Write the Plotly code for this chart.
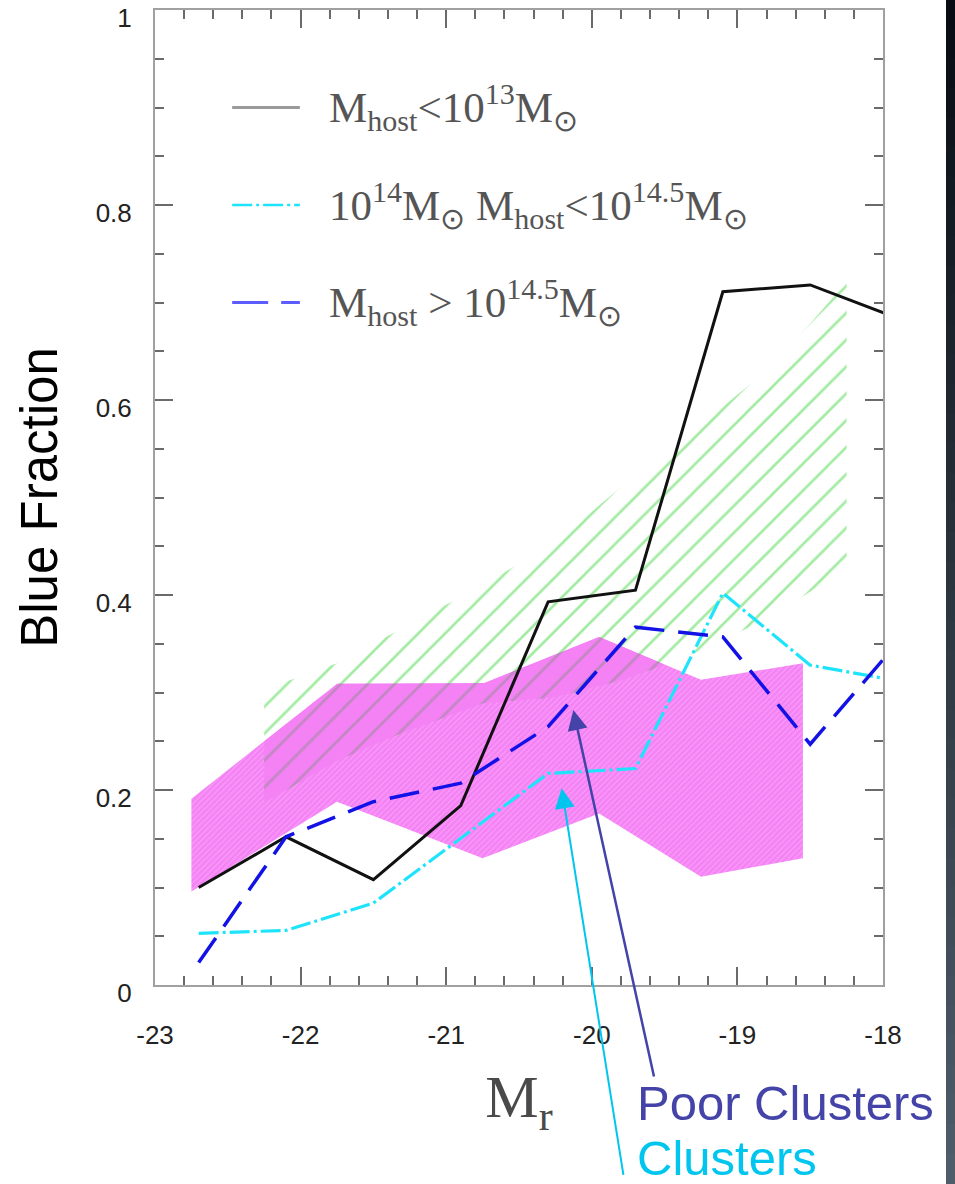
import numpy as np
import plotly.graph_objects as go

# ---- data -------------------------------------------------------------
# magnitude bins of the model curves
mr_bins = [-22.7, -22.1, -21.5, -20.9, -20.3, -19.7, -19.1, -18.5, -17.9]
frac_host_lt13 = [0.100, 0.152, 0.108, 0.184, 0.393, 0.405, 0.711, 0.718, 0.684]
frac_host_14_145 = [0.053, 0.056, 0.084, 0.150, 0.217, 0.222, 0.402, 0.328, 0.312]
frac_host_gt145 = [0.023, 0.152, 0.188, 0.207, 0.265, 0.367, 0.357, 0.247, 0.351]

# magenta observational band
band_m_mr = [-22.75, -21.75, -20.75, -19.95, -19.25, -18.55]
band_m_lo = [0.096, 0.188, 0.130, 0.176, 0.111, 0.130]
band_m_hi = [0.191, 0.309, 0.309, 0.357, 0.313, 0.330]

# green hatched band
band_g_mr = [-22.25, -21.75, -21.25, -20.75, -20.25, -19.75, -19.25, -18.75, -18.25]
band_g_lo = [0.187, 0.230, 0.262, 0.289, 0.295, 0.314, 0.343, 0.379, 0.428]
band_g_hi = [0.303, 0.330, 0.370, 0.410, 0.454, 0.517, 0.575, 0.636, 0.721]

x_tick_vals = [-23, -22, -21, -20, -19, -18]
x_tick_text = ["-23", "-22", "-21", "-20", "-19", "-18"]
y_tick_vals = [0, 0.2, 0.4, 0.6, 0.8, 1.0]
y_tick_text = ["0", "0.2", "0.4", "0.6", "0.8", "1"]

legend_rows = [0.9, 0.8, 0.7]
legend_labels = [
    "M<sub>host</sub><10<sup>13</sup>M<sub>⊙</sub>",
    "10<sup>14</sup>M<sub>⊙</sub> M<sub>host</sub><10<sup>14.5</sup>M<sub>⊙</sub>",
    "M<sub>host</sub> > 10<sup>14.5</sup>M<sub>⊙</sub>",
]

# ---- styles -----------------------------------------------------------
MAGENTA = "#f482f4"
MAGENTA_FG = "#ffb6ff"
GREEN = "#48d848"
BLACK = "#111111"
CYAN = "#1ee4fb"
BLUE = "#1212e6"
DASHDOT = "20px,4px,3px,4px"
LONGDASH = "30px,14px"
HATCH = dict(shape="/", size=19, solidity=0.14)


def band_polygon(xv, lo, hi):
    xv, lo, hi = list(xv), list(lo), list(hi)
    return xv + xv[::-1], hi + lo[::-1]


fig = go.Figure()

# magenta band
px_, py_ = band_polygon(band_m_mr, band_m_lo, band_m_hi)
fig.add_trace(go.Scatter(
    x=px_, y=py_, mode="lines", fill="toself", line=dict(width=0),
    fillcolor=MAGENTA,
    fillpattern=dict(shape="/", size=4, solidity=0.3,
                     fgcolor=MAGENTA_FG, bgcolor=MAGENTA),
    hoverinfo="skip", showlegend=False))

# green hatched band
px_, py_ = band_polygon(band_g_mr, band_g_lo, band_g_hi)
fig.add_trace(go.Scatter(
    x=px_, y=py_, mode="lines", fill="toself", line=dict(width=0),
    fillcolor="rgba(0,0,0,0)",
    fillpattern=dict(**HATCH, fgcolor=GREEN, bgcolor="rgba(0,0,0,0)"),
    hoverinfo="skip", showlegend=False))

# overlap of the two bands: hatch shows grey on top of magenta
xs = np.linspace(max(band_m_mr[0], band_g_mr[0]), min(band_m_mr[-1], band_g_mr[-1]), 2000)
lo = np.maximum(np.interp(xs, band_m_mr, band_m_lo), np.interp(xs, band_g_mr, band_g_lo))
hi = np.minimum(np.interp(xs, band_m_mr, band_m_hi), np.interp(xs, band_g_mr, band_g_hi))
keep = hi > lo
px_, py_ = band_polygon(xs[keep], lo[keep], hi[keep])
fig.add_trace(go.Scatter(
    x=px_, y=py_, mode="lines", fill="toself", line=dict(width=0),
    fillcolor="rgba(0,0,0,0)",
    fillpattern=dict(**HATCH, fgcolor="#8c8c8c", bgcolor=MAGENTA),
    hoverinfo="skip", showlegend=False))

# model curves
fig.add_trace(go.Scatter(x=mr_bins, y=frac_host_lt13, mode="lines",
                         line=dict(color=BLACK, width=3), showlegend=False))
fig.add_trace(go.Scatter(x=mr_bins, y=frac_host_14_145, mode="lines",
                         line=dict(color=CYAN, width=3.2, dash=DASHDOT), showlegend=False))
fig.add_trace(go.Scatter(x=mr_bins, y=frac_host_gt145, mode="lines",
                         line=dict(color=BLUE, width=3.5, dash=LONGDASH), showlegend=False))

# ---- legend drawn inside the frame -------------------------------------
shapes = []
sample_styles = [
    dict(color="#9a9a9a", width=3),
    dict(color=CYAN, width=2.6, dash=DASHDOT),
    dict(color="#5c5cff", width=3, dash="36px,13px"),
]
annotations = []
for yr, lab, st in zip(legend_rows, legend_labels, sample_styles):
    shapes.append(dict(type="line", xref="paper", yref="y", x0=0.106, x1=0.199,
                       y0=yr, y1=yr, line=st))
    annotations.append(dict(xref="paper", yref="y", x=0.236, y=yr, text=lab,
                            showarrow=False, xanchor="left", yanchor="middle",
                            font=dict(family="Liberation Serif", size=43, color="#555555")))

# ---- pointer annotations ---------------------------------------------
POOR = "#4444a8"
CLUS = "#00c6ef"
annotations.append(dict(x=-20.127, y=0.282, xref="x", yref="y", ax=81, ay=368,
                        text="", showarrow=True, arrowhead=2, arrowsize=1.6,
                        arrowwidth=2.5, arrowcolor=POOR))
annotations.append(dict(x=-20.207, y=0.2017, xref="x", yref="y", ax=62, ay=388,
                        text="", showarrow=True, arrowhead=2, arrowsize=2.0,
                        arrowwidth=2, arrowcolor=CLUS))
annotations.append(dict(xref="paper", yref="paper", x=0.659, y=-0.121,
                        text="Poor Clusters", showarrow=False, xanchor="left",
                        yanchor="middle",
                        font=dict(family="Liberation Sans", size=49, color=POOR)))
annotations.append(dict(xref="paper", yref="paper", x=0.659, y=-0.1775,
                        text="Clusters", showarrow=False, xanchor="left",
                        yanchor="middle",
                        font=dict(family="Liberation Sans", size=49, color=CLUS)))

# ---- dark strip on the right edge ------------------------------------
n_strip = 40
top_c = np.array([8, 12, 18])
bot_c = np.array([80, 94, 108])
y_top, y_bot = 1.0103, -0.2041
for i in range(n_strip):
    t = (i + 0.5) / n_strip
    c = top_c + (bot_c - top_c) * t
    ya = y_top + (y_bot - y_top) * i / n_strip
    yb = y_top + (y_bot - y_top) * (i + 1) / n_strip
    shapes.append(dict(type="rect", xref="paper", yref="paper",
                       x0=1.0865, x1=1.11, y0=yb - 0.001, y1=ya + 0.001,
                       line=dict(width=0),
                       fillcolor="rgb(%d,%d,%d)" % tuple(c.astype(int))))

axis_common = dict(
    showline=True, linecolor="#a0a0a0", linewidth=2, mirror="ticks",
    ticks="inside", ticklen=18, tickwidth=1.5, tickcolor="#6a6a6a",
    showgrid=False, zeroline=False, ticklabeloverflow="allow", automargin=False,
    tickfont=dict(family="Liberation Sans", size=26, color="#222222"),
)

fig.update_layout(
    width=955, height=1184,
    margin=dict(l=155, r=72, t=10, b=199),
    paper_bgcolor="white", plot_bgcolor="white",
    shapes=shapes, annotations=annotations,
    xaxis=dict(
        range=[-23, -18], tickvals=x_tick_vals, ticktext=x_tick_text,
        minor=dict(ticks="inside", dtick=0.2, ticklen=9, tickwidth=1.5, tickcolor="#6a6a6a"),
        ticklabelstandoff=26,
        title=dict(text="M<sub>r</sub>", standoff=26,
                   font=dict(family="Liberation Serif", size=60, color="#4a4a4a")),
        **axis_common),
    yaxis=dict(
        range=[0, 1], tickvals=y_tick_vals, ticktext=y_tick_text,
        minor=dict(ticks="inside", dtick=0.05, ticklen=9, tickwidth=1.5, tickcolor="#6a6a6a"),
        ticklabelstandoff=16, ticklabelshift=8,
        title=dict(text="Blue Fraction", standoff=22,
                   font=dict(family="Liberation Sans", size=51, color="#000000")),
        **axis_common),
)

fig.write_html("out.html")
